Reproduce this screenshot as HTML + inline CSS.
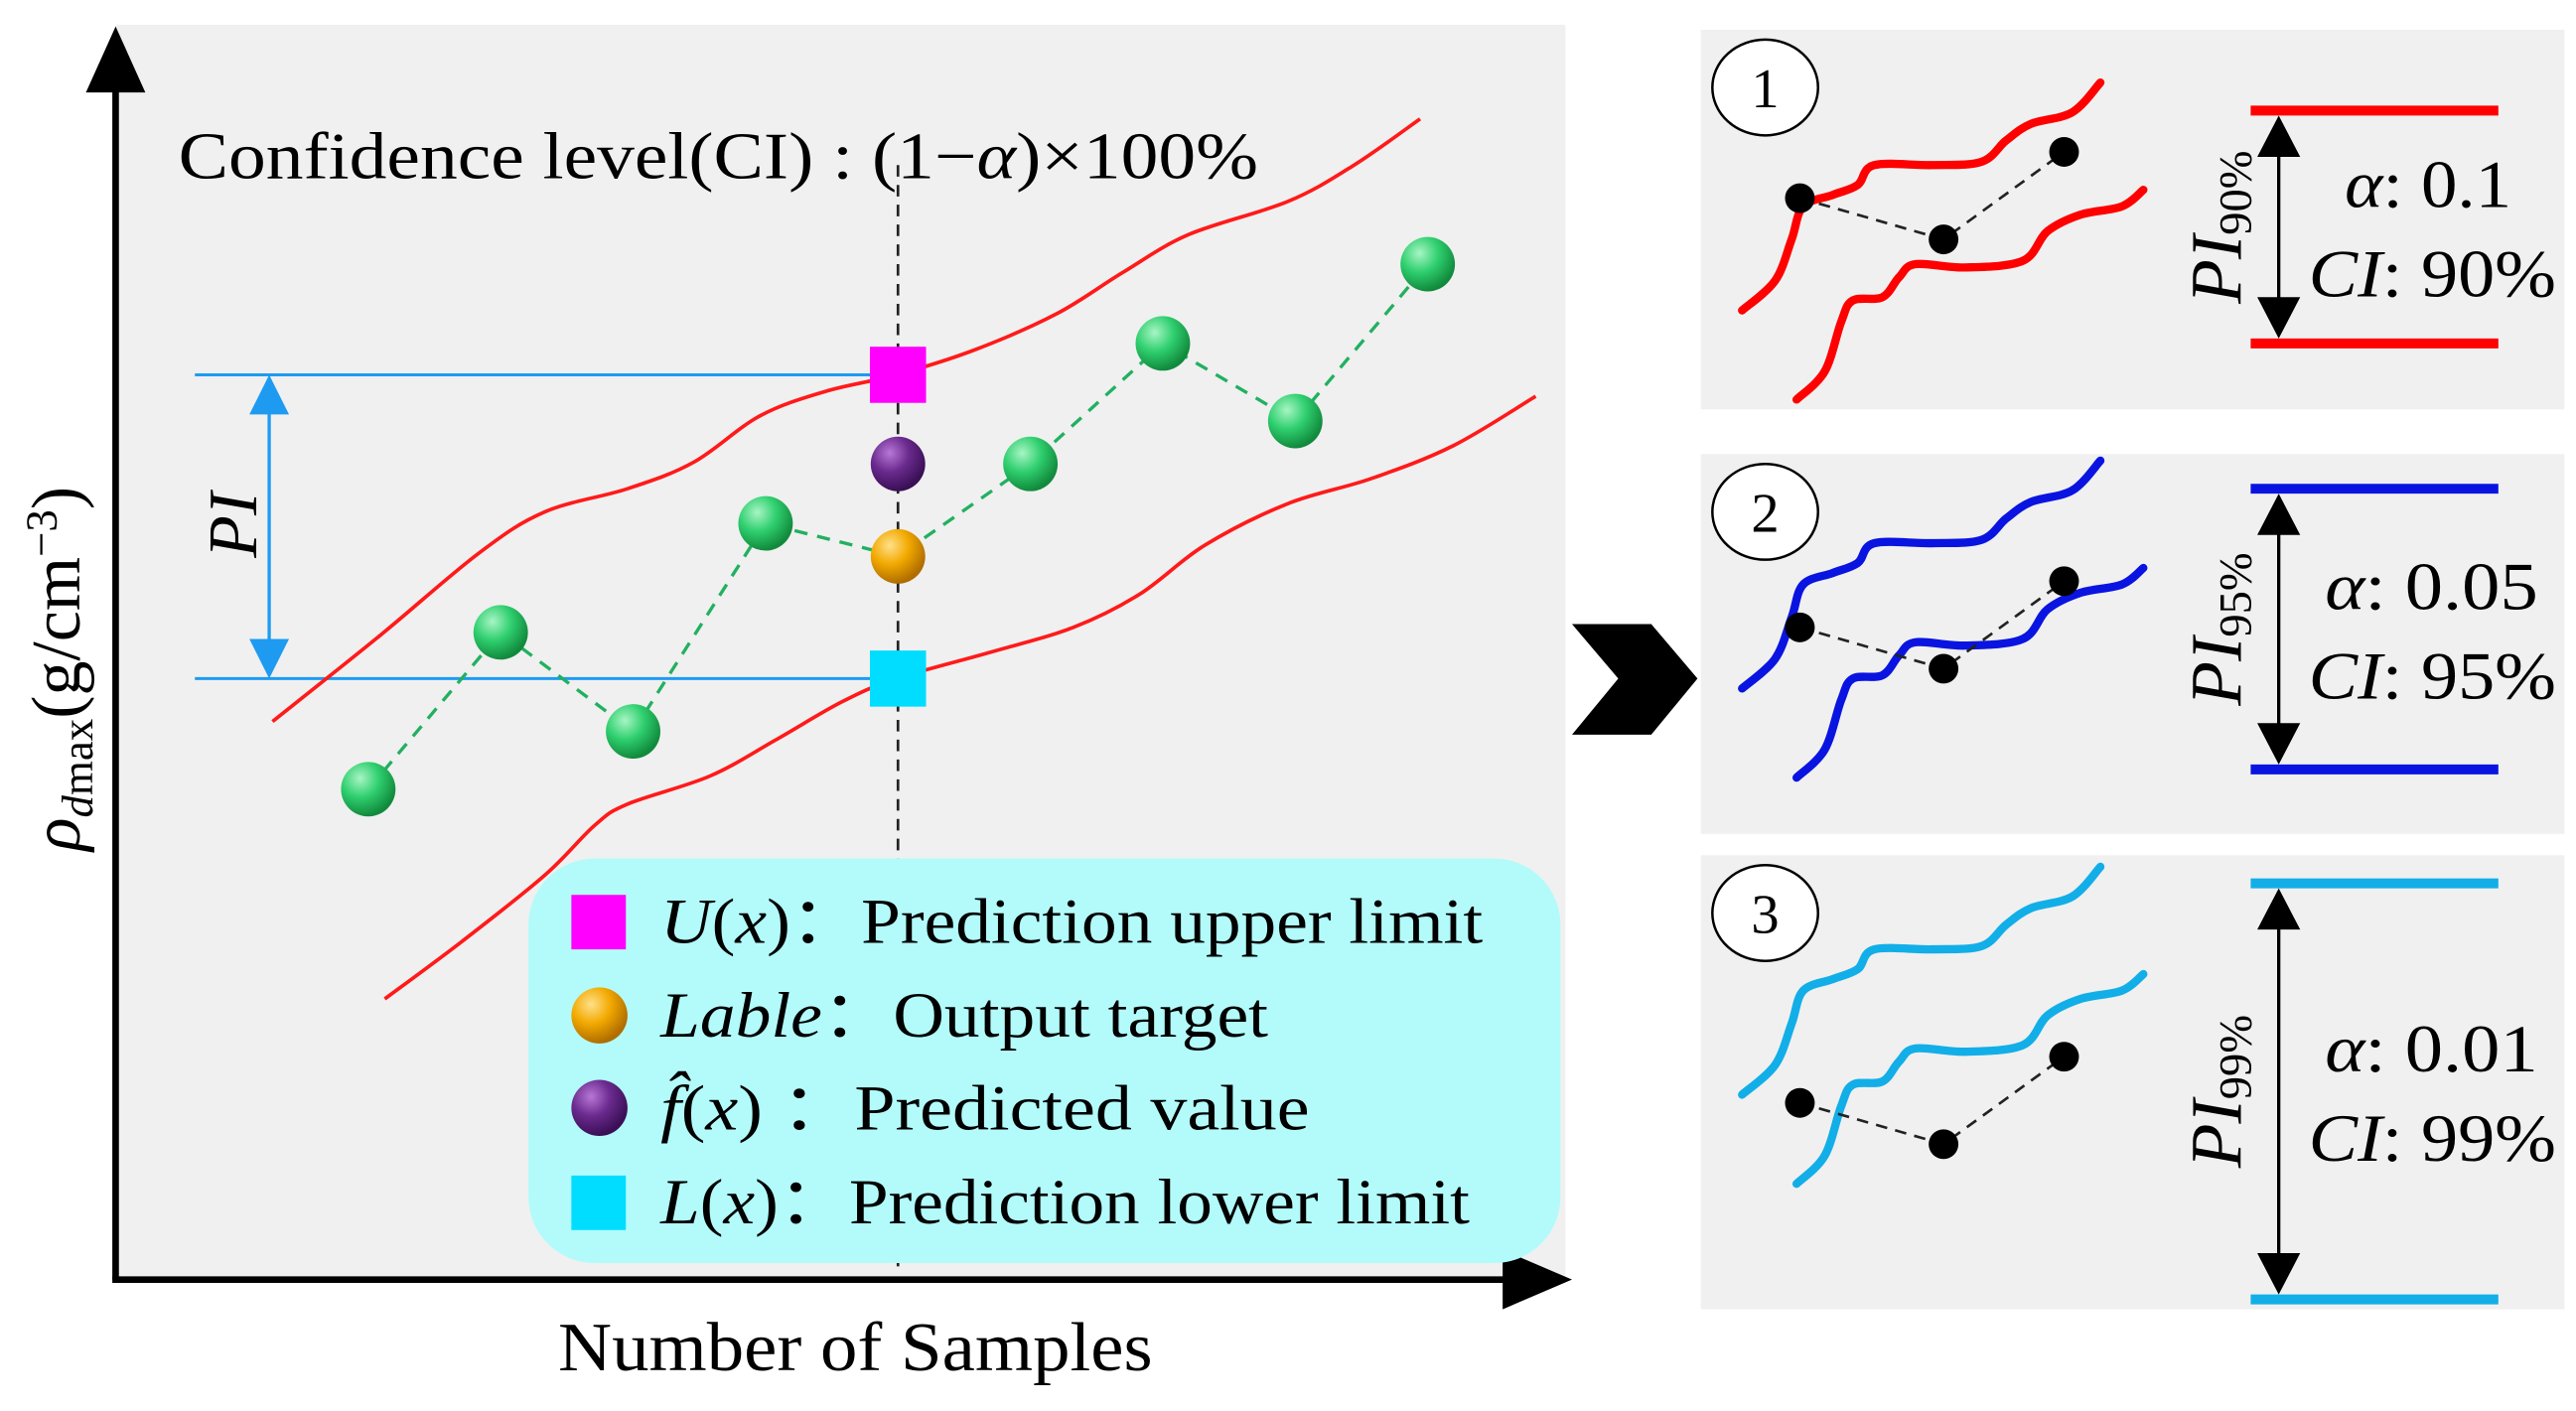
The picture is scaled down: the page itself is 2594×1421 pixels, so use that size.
<!DOCTYPE html>
<html><head><meta charset="utf-8"><style>
html,body{margin:0;padding:0;background:#fff;}
svg{display:block;}
text{font-family:"Liberation Serif",serif;fill:#000;}
</style></head><body>
<svg id="fig" width="2594" height="1421" viewBox="0 0 1560 854.6" xmlns="http://www.w3.org/2000/svg">
<defs>
<radialGradient id="gGreen" cx="35%" cy="30%" r="70%"><stop offset="0" stop-color="#a8f5c4"/><stop offset="0.5" stop-color="#2fcf6f"/><stop offset="1" stop-color="#118a3c"/></radialGradient>
<radialGradient id="gOrange" cx="35%" cy="30%" r="70%"><stop offset="0" stop-color="#ffe08a"/><stop offset="0.5" stop-color="#f2a900"/><stop offset="1" stop-color="#b06d00"/></radialGradient>
<radialGradient id="gPurple" cx="35%" cy="30%" r="70%"><stop offset="0" stop-color="#b877d6"/><stop offset="0.5" stop-color="#6a2a8e"/><stop offset="1" stop-color="#3a0f55"/></radialGradient>
</defs>
<rect x="70" y="15" width="878" height="760" fill="#f0f0f0"/>
<g id="main"></g>
<text x="108" y="108" font-size="40" textLength="654" lengthAdjust="spacingAndGlyphs">Confidence level(CI) : (1−<tspan font-style="italic">α</tspan>)×100%</text>
<text x="338" y="830" font-size="42" textLength="360" lengthAdjust="spacingAndGlyphs">Number of Samples</text>
<text transform="translate(48,405) rotate(-90)" font-size="42" text-anchor="middle"><tspan font-style="italic">ρ</tspan><tspan font-size="27" dy="8"><tspan font-style="italic">d</tspan>max</tspan><tspan dy="-8">(g/cm</tspan><tspan font-size="27" dy="-14">−3</tspan><tspan dy="14">)</tspan></text>
<text transform="translate(155,318) rotate(-90)" font-size="42" font-style="italic" text-anchor="middle">PI</text>
<rect x="320" y="520" width="625" height="245" rx="40" fill="#b3fbfb"/>
<g><rect x="346" y="542" width="33" height="33" fill="#ff00ff"/><text x="400" y="571" font-size="39" textLength="498" lengthAdjust="spacingAndGlyphs"><tspan font-style="italic">U</tspan>(<tspan font-style="italic">x</tspan>)：Prediction upper limit</text></g>
<g><circle cx="363" cy="615" r="17" fill="url(#gOrange)"/><text x="400" y="628" font-size="39" textLength="368" lengthAdjust="spacingAndGlyphs"><tspan font-style="italic">Lable</tspan>：Output target</text></g>
<g><circle cx="363" cy="671" r="17" fill="url(#gPurple)"/><text x="400" y="684" font-size="39" textLength="393" lengthAdjust="spacingAndGlyphs"><tspan font-style="italic">f̂</tspan>(<tspan font-style="italic">x</tspan>) ：Predicted value</text></g>
<g><rect x="346" y="712" width="33" height="33" fill="#00ddff"/><text x="400" y="741" font-size="39" textLength="490" lengthAdjust="spacingAndGlyphs"><tspan font-style="italic">L</tspan>(<tspan font-style="italic">x</tspan>)：Prediction lower limit</text></g>
<polygon points="952,378 1000,378 1028,411 1000,445 952,445 980,411" fill="#000"/>
<g id="panels"></g>
</svg>
<script>
// main chart data
var sampleIdx=[0,1,2,3,4,5,6,7,8];
var sampleVals=[29.7,39.2,33.2,45.8,43.8,49.4,56.7,52.0,61.5];
var targetIndex=4;
var predictedVal=49.4;
var upperVal=54.8;
var lowerVal=36.4;
var upperCurveX=[165,230,290,330,380,420,460,500,543,590,640,680,720,780,820,860];
var upperCurveV=[33.8,39.0,44.0,46.5,47.9,49.5,52.3,53.8,54.8,56.3,58.5,61.0,63.3,65.3,67.5,70.3];
var lowerCurveX=[233,280,330,360,380,430,470,510,543,600,650,690,730,780,830,880,930];
var lowerCurveV=[17.0,20.5,24.5,27.5,28.8,30.5,32.7,35.0,36.4,38.0,39.5,41.5,44.5,47.0,48.5,50.5,53.5];
var NS="http://www.w3.org/2000/svg";
function xS(i){return 223+i*80.2;}
function yS(v){return 775-v*10;}
function mk(tag,attrs,parent){var e=document.createElementNS(NS,tag);for(var k in attrs)e.setAttribute(k,attrs[k]);parent.appendChild(e);return e;}
function smooth(pts){var d="M"+pts[0][0]+","+pts[0][1];for(var i=0;i<pts.length-1;i++){var p0=pts[i-1]||pts[i],p1=pts[i],p2=pts[i+1],p3=pts[i+2]||p2;d+=" C"+(p1[0]+(p2[0]-p0[0])/6)+","+(p1[1]+(p2[1]-p0[1])/6)+" "+(p2[0]-(p3[0]-p1[0])/6)+","+(p2[1]-(p3[1]-p1[1])/6)+" "+p2[0]+","+p2[1];}return d;}
var g=document.getElementById('main');
var xc=xS(targetIndex);
var e;
e=mk('line',{x1:xc,y1:100,x2:xc,y2:772,stroke:'#222','stroke-width':1.6,'stroke-dasharray':'7,5'},g);

e=mk('line',{x1:118,y1:yS(upperVal),x2:xc,y2:yS(upperVal),stroke:'#1e9bf0','stroke-width':1.8},g);

e=mk('line',{x1:118,y1:yS(lowerVal),x2:xc,y2:yS(lowerVal),stroke:'#1e9bf0','stroke-width':1.8},g);

e=mk('line',{x1:163,y1:yS(upperVal)+20,x2:163,y2:yS(lowerVal)-20,stroke:'#1e9bf0','stroke-width':2},g);

e=mk('polygon',{points:[163,yS(upperVal),151,yS(upperVal)+24,175,yS(upperVal)+24].join(' '),fill:'#1e9bf0'},g);

e=mk('polygon',{points:[163,yS(lowerVal),151,yS(lowerVal)-24,175,yS(lowerVal)-24].join(' '),fill:'#1e9bf0'},g);

var up=upperCurveX.map(function(x,i){return [x,yS(upperCurveV[i])];});
e=mk('path',{d:smooth(up),fill:'none',stroke:'#ff1a1a','stroke-width':2.2},g);

var lo=lowerCurveX.map(function(x,i){return [x,yS(lowerCurveV[i])];});
e=mk('path',{d:smooth(lo),fill:'none',stroke:'#ff1a1a','stroke-width':2.2},g);

var lp=sampleIdx.map(function(i){return xS(i)+','+yS(sampleVals[i]);}).join(' ');
e=mk('polyline',{points:lp,fill:'none',stroke:'#22b060','stroke-width':2,'stroke-dasharray':'8,6'},g);

sampleIdx.forEach(function(i){
 if(i===targetIndex)return;
 var c=mk('circle',{cx:xS(i),cy:yS(sampleVals[i]),r:16.5,fill:'url(#gGreen)'},g);
 
 
});
e=mk('circle',{cx:xc,cy:yS(sampleVals[targetIndex]),r:16.5,fill:'url(#gOrange)'},g);

e=mk('circle',{cx:xc,cy:yS(predictedVal),r:16.5,fill:'url(#gPurple)'},g);

e=mk('rect',{x:xc-17,y:yS(upperVal)-17,width:34,height:34,fill:'#ff00ff'},g);

e=mk('rect',{x:xc-17,y:yS(lowerVal)-17,width:34,height:34,fill:'#00ddff'},g);

e=mk('line',{x1:70,y1:775,x2:70,y2:50,stroke:'#000','stroke-width':4},g);

e=mk('polygon',{points:'70,16 52,56 88,56',fill:'#000'},g);

e=mk('line',{x1:68,y1:775,x2:915,y2:775,stroke:'#000','stroke-width':4},g);

e=mk('polygon',{points:'952,775 910,757 910,793',fill:'#000'},g);


// side panels data
var panelNums=['1','2','3'];
var panelAlpha=['0.1','0.05','0.01'];
var panelCI=['90%','95%','99%'];
var panelColors=['#ff0000','#0a14e0','#12aee8'];
var panelTop=[18,275,518];
var panelBottom=[248,505,793];
var lineTopY=[67,296,535];
var lineBotY=[208,466,787];
var curveShift=[0,229,475];
var pointShift=[0,260,548];
var miniUpX=[1055,1075,1085,1092,1110,1125,1135,1170,1200,1215,1230,1255,1272];
var miniUpY=[188,170,145,125,118,112,100,100,98,85,75,68,50];
var miniLoX=[1088,1105,1115,1122,1140,1150,1160,1190,1225,1240,1260,1285,1298];
var miniLoY=[242,225,195,182,180,168,160,162,158,140,130,125,115];
var miniPtX=[1090,1177,1250];
var miniPtY=[120,145,92];
var alphaX=[1420,1408,1408];
var alphaW=[101,129,129];
var P=document.getElementById('panels');
panelNums.forEach(function(n,k){
 var pg=mk('g',{},P);
 
 
 mk('rect',{x:1030,y:panelTop[k],width:523,height:panelBottom[k]-panelTop[k],fill:'#f0f0f0'},pg);
 var el=mk('ellipse',{cx:1069,cy:panelTop[k]+35,rx:32,ry:29,fill:'#fff',stroke:'#000','stroke-width':1.5},pg);
 
 
 var t=mk('text',{x:1069,y:panelTop[k]+47,'font-size':34,'text-anchor':'middle'},pg);t.textContent=n;
 var cs=curveShift[k],ps=pointShift[k],col=panelColors[k];
 var u=mk('path',{d:smooth(miniUpX.map(function(x,i){return [x,miniUpY[i]+cs];})),fill:'none',stroke:col,'stroke-width':5,'stroke-linecap':'round'},pg);
 
 
 var l=mk('path',{d:smooth(miniLoX.map(function(x,i){return [x,miniLoY[i]+cs];})),fill:'none',stroke:col,'stroke-width':5,'stroke-linecap':'round'},pg);
 
 
 var pl=mk('polyline',{points:miniPtX.map(function(x,i){return x+','+(miniPtY[i]+ps);}).join(' '),fill:'none',stroke:'#222','stroke-width':1.6,'stroke-dasharray':'7,5'},pg);
 
 
 miniPtX.forEach(function(x,i){
  var c=mk('circle',{cx:x,cy:miniPtY[i]+ps,r:9,fill:'#000'},pg);
  
  
 });
 var a=lineTopY[k],b=lineBotY[k];
 var h1=mk('line',{x1:1363,y1:a,x2:1513,y2:a,stroke:col,'stroke-width':6},pg);
 
 
 var h2=mk('line',{x1:1363,y1:b,x2:1513,y2:b,stroke:col,'stroke-width':6},pg);
 
 
 mk('line',{x1:1380,y1:a+20,x2:1380,y2:b-20,stroke:'#000','stroke-width':2},pg);
 mk('polygon',{points:[1380,a+3,1367,a+28,1393,a+28].join(' '),fill:'#000'},pg);
 mk('polygon',{points:[1380,b-3,1367,b-28,1393,b-28].join(' '),fill:'#000'},pg);
 var mid=(a+b)/2;
 var pt=mk('text',{transform:'translate(1357,'+mid+') rotate(-90)','font-size':44,'font-style':'italic','text-anchor':'middle'},pg);
 
 
 pt.innerHTML='PI<tspan font-size="28" dy="6" font-style="normal">'+panelCI[k]+'</tspan>';
 var at=mk('text',{x:alphaX[k],y:mid-12,'font-size':41,textLength:alphaW[k],lengthAdjust:'spacingAndGlyphs'},pg);
 
 
 at.innerHTML='<tspan font-style="italic">α</tspan>: '+panelAlpha[k];
 var ct=mk('text',{x:1398,y:mid+42,'font-size':41,textLength:150,lengthAdjust:'spacingAndGlyphs'},pg);
 
 
 ct.innerHTML='<tspan font-style="italic">CI</tspan>: '+panelCI[k];
});
</script>
</body></html>
